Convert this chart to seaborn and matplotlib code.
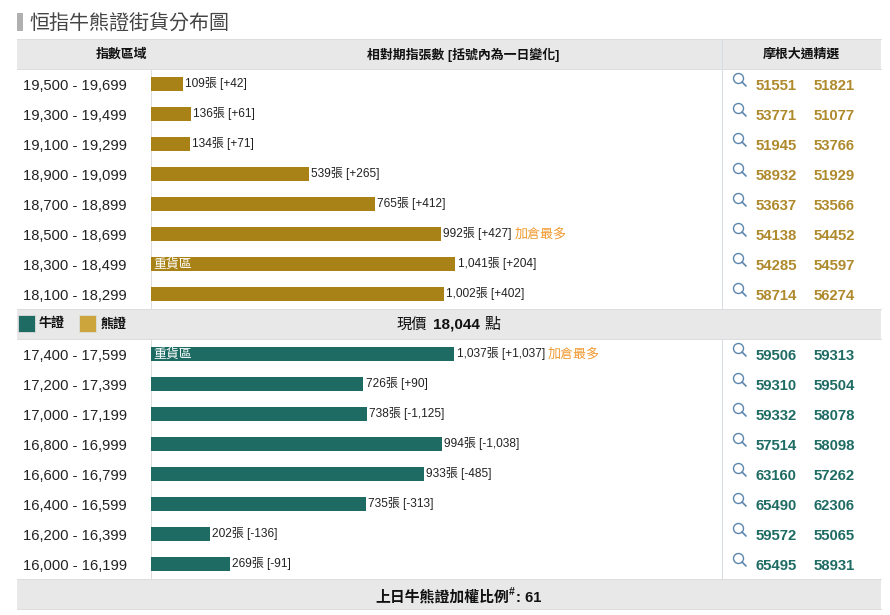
import matplotlib
matplotlib.use("Agg")
import matplotlib.pyplot as plt
from matplotlib.patches import Rectangle, Circle
import pandas as pd
import seaborn as sns

sns.set_theme(style="white")
FONT = ["Liberation Sans", "Noto Sans CJK TC", "DejaVu Sans"]
plt.rcParams["font.family"] = FONT

bear_ranges = ["19,500 - 19,699", "19,300 - 19,499", "19,100 - 19,299", "18,900 - 19,099",
               "18,700 - 18,899", "18,500 - 18,699", "18,300 - 18,499", "18,100 - 18,299"]
bear_values = [109, 136, 134, 539, 765, 992, 1041, 1002]
bear_changes = ["+42", "+61", "+71", "+265", "+412", "+427", "+204", "+402"]
bear_codes_a = ["51551", "53771", "51945", "58932", "53637", "54138", "54285", "58714"]
bear_codes_b = ["51821", "51077", "53766", "51929", "53566", "54452", "54597", "56274"]

bull_ranges = ["17,400 - 17,599", "17,200 - 17,399", "17,000 - 17,199", "16,800 - 16,999",
               "16,600 - 16,799", "16,400 - 16,599", "16,200 - 16,399", "16,000 - 16,199"]
bull_values = [1037, 726, 738, 994, 933, 735, 202, 269]
bull_changes = ["+1,037", "+90", "-1,125", "-1,038", "-485", "-313", "-136", "-91"]
bull_codes_a = ["59506", "59310", "59332", "57514", "63160", "65490", "59572", "65495"]
bull_codes_b = ["59313", "59504", "58078", "58098", "57262", "62306", "55065", "58931"]

BEAR, BEAR_TXT, BEAR_KEY = "#A88216", "#AE8A2C", "#CCA63C"
BULL, BULL_TXT = "#1E6B63", "#1E6B63"
BAND, EDGE = "#E8E8E8", "#DDDDDD"
W, H = 890, 615

fig = plt.figure(figsize=(W / 100, H / 100), dpi=100, facecolor="white")
bg = fig.add_axes([0, 0, 1, 1])
bg.set_xlim(0, W)
bg.set_ylim(H, 0)
bg.axis("off")


def band(y0, y1):
    bg.add_patch(Rectangle((17, y0), 864, y1 - y0, fc=BAND, ec="none"))
    bg.plot([17, 881], [y0, y0], color=EDGE, lw=0.72)
    bg.plot([17, 881], [y1, y1], color=EDGE, lw=0.72)


def label(x, y, s, size=8.9, color="#222222", weight="normal", ha="center"):
    bg.text(x, y, s, fontsize=size, color=color, fontweight=weight, ha=ha, va="center", family=FONT)


bg.add_patch(Rectangle((17, 13), 6, 18, fc="#B0B0B0", ec="none"))
label(29, 24, "恒指牛熊證街貨分布圖", size=14.4, color="#444444", ha="left")

band(38.5, 68.5)
band(309, 339)
band(579, 609)

bg.plot([151, 151], [69, 309], color=EDGE, lw=0.72)
bg.plot([151, 151], [339, 579], color=EDGE, lw=0.72)
bg.plot([721.5, 721.5], [38.5, 309], color="#D5DCE4", lw=0.72)
bg.plot([721.5, 721.5], [339, 579], color="#D5DCE4", lw=0.72)

label(121.5, 55, "指數區域", size=9.3, color="#111111", weight="bold")
label(463, 55, "相對期指張數 [括號內為一日變化]", size=9.3, color="#111111", weight="bold")
label(801, 55, "摩根大通精選", size=9.3, color="#111111", weight="bold")

bg.add_patch(Rectangle((18, 315), 17, 17, fc=BULL, ec="#DDDDDD", lw=0.6))
label(39, 324, "牛證", size=9.4, color="#111111", weight="bold", ha="left")
bg.add_patch(Rectangle((79, 315), 17, 17, fc=BEAR_KEY, ec="#DDDDDD", lw=0.6))
label(101, 324, "熊證", size=9.4, color="#111111", weight="bold", ha="left")
bg.text(397, 324.5, "現價", fontsize=11, color="#111111", ha="left", va="center", family=FONT)
bg.text(433, 324.5, "18,044", fontsize=11, color="#111111", fontweight="bold", ha="left", va="center", family=FONT)
bg.text(484, 324.5, "點", fontsize=11.5, color="#111111", ha="left", va="center", family=FONT)
bg.text(375, 597.5, "上日牛熊證加權比例", fontsize=10.7, color="#111111", fontweight="bold", ha="left", va="center", family=FONT)
bg.text(509, 592, "#", fontsize=7.5, color="#111111", fontweight="bold", ha="left", va="center", family=FONT)
bg.text(516, 597.5, ": 61", fontsize=10.7, color="#111111", fontweight="bold", ha="left", va="center", family=FONT)


def section(top, ranges, values, changes, a, b, bar_color, txt_color, note_row):
    height = 30 * len(values)
    ax = fig.add_axes([151 / W, 1 - (top + height) / H, 570 / W, height / H])
    ax.patch.set_alpha(0)
    df = pd.DataFrame({"range": ranges, "value": values})
    sns.barplot(data=df, y="range", x="value", orient="h", color=bar_color,
                saturation=1, width=14 / 30, linewidth=0, ax=ax)
    ax.set_xlim(0, 570 / 0.2925)
    ax.set_ylim(len(values) - 0.5, -0.5)
    ax.axis("off")
    for i, (r, v, c) in enumerate(zip(ranges, values, changes)):
        lab = ax.annotate(f"{v:,}張 [{c}]", (v, i), xytext=(1.6, 0.4), textcoords="offset points",
                          fontsize=8.6, color="#222222", va="center", ha="left", family=FONT)
        if i == note_row:
            fig.canvas.draw()
            bb = lab.get_window_extent()
            bg.text(bb.x1 + 3, top + 30 * i + 15.5, "加倉最多", fontsize=9.4, color="#F09A30",
                    ha="left", va="center", family=FONT)
        if v == max(values):
            ax.annotate("重貨區", (0, i), xytext=(1.8, -0.6), textcoords="offset points",
                        fontsize=9.3, color="white", va="center", ha="left", family=FONT)
        y = top + 30 * i + 15
        label(75, y + 2, r, size=10.6, color="#222222")
        bg.add_patch(Circle((738.5, y - 5.5), 5, fc="none", ec="#5C86AE", lw=1.0))
        bg.plot([742, 746], [y - 2, y + 2], color="#5C86AE", lw=1.2)
        label(755.5, y + 1.5, a[i], size=10.7, color=txt_color, weight="bold", ha="left")
        label(813.5, y + 1.5, b[i], size=10.7, color=txt_color, weight="bold", ha="left")


section(69, bear_ranges, bear_values, bear_changes, bear_codes_a, bear_codes_b, BEAR, BEAR_TXT, 5)
section(339, bull_ranges, bull_values, bull_changes, bull_codes_a, bull_codes_b, BULL, BULL_TXT, 0)

fig.savefig("out.png", dpi=100, facecolor="white")
